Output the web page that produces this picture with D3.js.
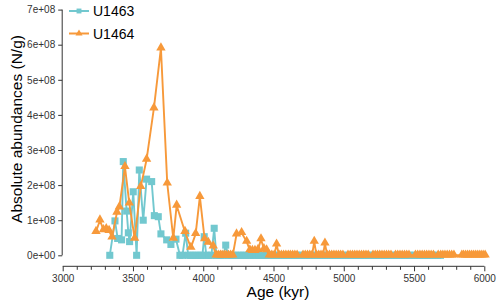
<!DOCTYPE html>
<html><head><meta charset="utf-8">
<script src="https://cdn.jsdelivr.net/npm/d3@7"></script>
<style>body{margin:0;background:#fff;}svg{display:block;font-family:"Liberation Sans",Arial,sans-serif;}</style>
</head><body><svg id="c" width="500" height="306"></svg>
<script>
// ---- data ----
const seriesNames = ["U1463", "U1464"];
const u1463Age = [3335,3372,3391,3419,3431,3455,3467,3476,3502,3526,3545,3573,3597,3633,3652,3680,3699,3740,3770,3806,
 3834,3852,3875,3893,3910,3928,3945,3962,3980,3994,4007,4022,4040,4058,4078,4093,4110,4127,4143,4160,4178,4195,4213,4231,
 4250,4268,4286,4303,4322,4340,4358,4377,4395,4413,4430,4448,4467,4485,4503,4520,4538,4557,4575,4593,4611,4630,4648,4666,
 4684,4702,4720,4738,4757,4775,4793,4812,4830,4848,4866,4884,4903,4921,4940,4958,4976,4994,5012,5031,5049,5067,5085,5104,
 5122,5140,5158,5176,5195,5213,5231,5249,5268,5286,5304,5322,5340,5359,5377,5395,5413,5432,5450,5468,5486,5504,5523,5541,
 5559,5577,5596,5614,5632,5650,5668,5688];
const u1463Val = [0,0.98e8,0.48e8,0.44e8,2.67e8,1.26e8,0.64e8,0.39e8,1.81e8,0,2.43e8,1.0e8,2.17e8,2.10e8,1.13e8,1.10e8,0.61e8,0.44e8,0.31e8,0.46e8,
 0,0,0.63e8,0,0,0,0,0,0,0,0.53e8,0,0,0,0.77e8,0,0,0,0,0.29e8,0,0,0,0,
 0,0,0,0,0,0,0,0,0,0,0,0,0,0,0,0,0,0,0,0,0,0,0,0,
 0,0,0,0,0,0,0,0,0,0,0,0,0,0,0,0,0,0,0,0,0,0,0,0,
 0,0,0,0,0,0,0,0,0,0,0,0,0,0,0,0,0,0,0,0,0,0,0,0,0,0,
 0,0,0,0,0,0,0,0];
const u1464Age = [3237,3265,3290,3310,3330,3351,3386,3403,3443,3474,3512,3555,3597,3649,3699,3744,3787,3811,3870,3912,3946,3976,4010,4036,4071,
 4092,4107,4122,4135,4150,4163,4180,4195,4210,4237,4273,4309,4332,4350,4368,4390,4411,4432,4451,4470,4488,4505,4522,4540,4556,
 4572,4588,4605,4620,4636,4652,4668,4710,4726,4742,4758,4774,4790,4806,4822,4838,4852,4866,4882,4898,4914,4930,4946,4962,4978,
 4994,5030,5046,5062,5078,5094,5110,5126,5142,5158,5174,5208,5224,5240,5256,5272,5288,5304,5320,5336,5368,5384,5400,5416,5432,
 5448,5464,5510,5526,5542,5558,5574,5590,5606,5622,5638,5672,5690,5705,5720,5736,5752,5768,5784,5840,5852,5866,5880,5894,5908,
 5922,5936,5950,5964,5978,5992,6006];
const u1464Val = [0.67e8,1.0e8,0.72e8,0.75e8,0.70e8,0.51e8,1.22e8,1.37e8,2.52e8,1.48e8,0.48e8,1.95e8,2.73e8,4.19e8,5.9e8,2.05e8,0.48e8,1.42e8,0.67e8,0.22e8,0.61e8,1.67e8,0.46e8,0.36e8,0.26e8,
 0,0,0,0,0,0,0,0,0,0.60e8,0.64e8,0.39e8,0.15e8,0.13e8,0.13e8,0.16e8,0.46e8,0.18e8,0.15e8,0,0,0,0.31e8,0,0,
 0,0,0,0,0,0,0,0,0,0,0,0,0.39e8,0,0,0,0,0.34e8,0,0,0,0,0,0,0,
 0,0,0,0,0,0,0,0,0,0,0,0,0,0,0,0,0,0,0,0,0,0,0,0,0,
 0,0,0,0,0,0,0,0,0,0,0,0,0,0,0,0,0,0,0,0,0,0,0,0,0,
 0,0,0,0,0,0,0];
const xTicks = [3000,3500,4000,4500,5000,5500,6000];
const xMinorTicks = [3100,3200,3300,3400,3600,3700,3800,3900,4100,4200,4300,4400,4600,4700,4800,4900,5100,5200,5300,5400,5600,5700,5800,5900];
const yTicks = [0,1e8,2e8,3e8,4e8,5e8,6e8,7e8];
const yTickLabels = ["0e+00","1e+08","2e+08","3e+08","4e+08","5e+08","6e+08","7e+08"];
const xTitle = "Age (kyr)";
const yTitle = "Absolute abundances (N/g)";

// ---- drawing ----
const colors = ["#72c8cf", "#f7993a"];
const svg = d3.select("#c");
const x = d3.scaleLinear().domain([3000, 6000]).range([62.7, 484.3]);
const y = d3.scaleLinear().domain([0, 7e8]).range([255.3, 9.6]);
const axisColor = "#333";

// y axis
const ya = svg.append("g").attr("transform", "translate(62.2,0)")
  .call(d3.axisLeft(y).tickValues(yTicks).tickSize(4).tickPadding(3)
    .tickFormat((d, i) => yTickLabels[i]));
ya.select(".domain").attr("d", `M0,${y(0)}V${y(7e8)}`);
// x axis
const xa = svg.append("g").attr("transform", "translate(0,266.3)")
  .call(d3.axisBottom(x).tickValues(xTicks).tickSize(5).tickPadding(4).tickFormat(d3.format("d")));
xa.select(".domain").attr("d", `M${x(3000)},0H${x(6000)}`);
svg.append("g").attr("transform", "translate(0,266.3)")
  .call(d3.axisBottom(x).tickValues(xMinorTicks).tickSize(3.5).tickFormat(""))
  .select(".domain").remove();
svg.selectAll(".tick text").attr("font-size", "10px").attr("fill", "#333")
  .attr("font-family", "'Liberation Sans',Arial,sans-serif");
svg.selectAll(".domain, .tick line").attr("stroke", axisColor).attr("stroke-width", 1);

// titles
svg.append("text").attr("x", 278).attr("y", 297).attr("text-anchor", "middle")
  .attr("font-size", "15.5px").attr("fill", "#000").text(xTitle);
svg.append("text").attr("transform", "translate(21.5,129) rotate(-90)").attr("text-anchor", "middle")
  .attr("font-size", "15.5px").attr("fill", "#000").text(yTitle);

const series = [
  {name: seriesNames[0], pts: u1463Age.map((a, i) => ({a, v: u1463Val[i]})), color: colors[0], shape: "square"},
  {name: seriesNames[1], pts: u1464Age.map((a, i) => ({a, v: u1464Val[i]})), color: colors[1], shape: "triangle"}
];
const line = d3.line().x(d => x(d.a)).y(d => y(d.v));
const sqSym = d3.symbol(d3.symbolSquare, 50);
const triSym = d3.symbol(d3.symbolTriangle, 38);

series.forEach(s => {
  const g = svg.append("g");
  g.append("path").datum(s.pts).attr("d", line).attr("fill", "none")
    .attr("stroke", s.color).attr("stroke-width", 1.9).attr("stroke-linejoin", "round");
  g.selectAll("path.m").data(s.pts).join("path").attr("class", "m")
    .attr("transform", d => `translate(${x(d.a)},${y(d.v) + (s.shape === "triangle" ? -0.5 : 0)})`)
    .attr("d", s.shape === "square" ? sqSym : triSym).attr("fill", s.color);
});

// legend
const lg = svg.append("g");
series.forEach((s, i) => {
  const yy = 11 + i * 22.5;
  lg.append("line").attr("x1", 69).attr("x2", 89).attr("y1", yy).attr("y2", yy)
    .attr("stroke", s.color).attr("stroke-width", 2);
  lg.append("path").attr("transform", `translate(79,${yy})`)
    .attr("d", s.shape === "square" ? d3.symbol(d3.symbolSquare, 24) : d3.symbol(d3.symbolTriangle, 22))
    .attr("fill", s.color);
  lg.append("text").attr("x", 93).attr("y", yy + 5).attr("font-size", "14px").attr("fill", "#000").text(s.name);
});
</script></body></html>
